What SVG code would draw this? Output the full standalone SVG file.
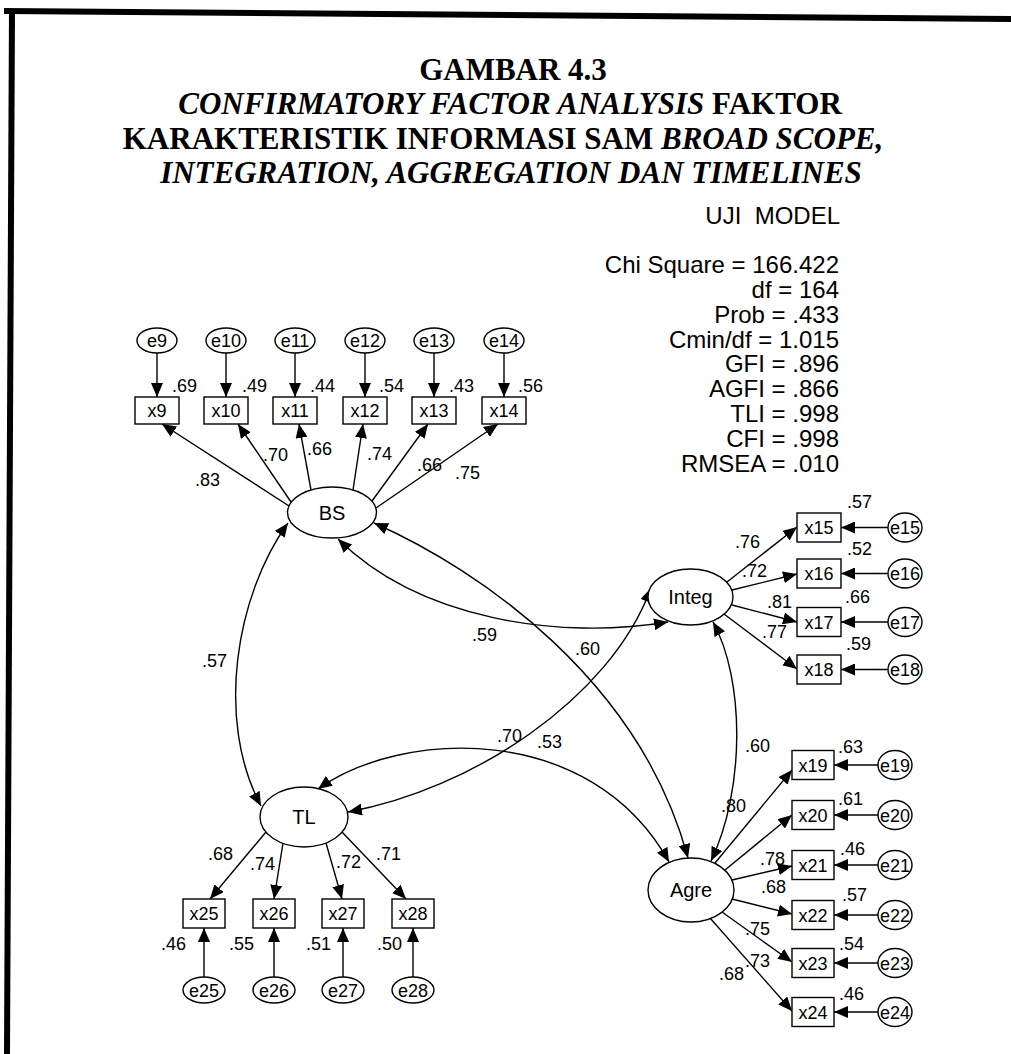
<svg xmlns="http://www.w3.org/2000/svg" width="1011" height="1054" viewBox="0 0 1011 1054">
<style>
  .bg { fill: #ffffff; }
  .frame { fill: #000000; }
  .shape { fill: #ffffff; stroke: #000000; stroke-width: 1.4; }
  .edge { fill: none; stroke: #000000; stroke-width: 1.4; }
  .title { font-family: "Liberation Serif", "Times New Roman", serif; font-weight: bold; font-size: 31px; fill: #000; }
  .it { font-style: italic; }
  .stat { font-family: "Liberation Sans", Arial, sans-serif; font-size: 24px; fill: #000; text-anchor: end; }
  .nm { font-family: "Liberation Sans", Arial, sans-serif; font-size: 18px; fill: #000; text-anchor: middle; }
  .lat { font-family: "Liberation Sans", Arial, sans-serif; font-size: 20px; fill: #000; text-anchor: middle; }
  .coef { font-family: "Liberation Sans", Arial, sans-serif; font-size: 18px; fill: #000; }
</style>
<defs>
  <marker id="ah" viewBox="0 0 14 12" refX="14" refY="6" markerWidth="14" markerHeight="12" markerUnits="userSpaceOnUse" orient="auto-start-reverse">
    <path d="M0,0 L14,6 L0,12 z" fill="#000"/>
  </marker>
</defs>
<rect class="bg" x="0" y="0" width="1011" height="1054"/>
<polygon class="frame" points="4,8 1011,16 1011,22 4,14"/>
<polygon class="frame" points="9,9 15,9 10,1054 4,1054"/>

<g id="title">
  <text class="title" x="513" y="80" text-anchor="middle">GAMBAR 4.3</text>
  <text class="title" x="510" y="114" text-anchor="middle"><tspan class="it">CONFIRMATORY FACTOR ANALYSIS</tspan> FAKTOR</text>
  <text class="title" x="503" y="149" text-anchor="middle">KARAKTERISTIK INFORMASI SAM <tspan class="it">BROAD SCOPE,</tspan></text>
  <text class="title it" x="511" y="183" text-anchor="middle">INTEGRATION, AGGREGATION DAN TIMELINES</text>
  <text class="stat" x="840" y="224" xml:space="preserve">UJI  MODEL</text>
</g>

<g id="fit-stats">
  <text class="stat" x="839" y="273">Chi Square = 166.422</text>
  <text class="stat" x="839" y="298">df = 164</text>
  <text class="stat" x="839" y="323">Prob = .433</text>
  <text class="stat" x="839" y="348">Cmin/df = 1.015</text>
  <text class="stat" x="839" y="372">GFI = .896</text>
  <text class="stat" x="839" y="397">AGFI = .866</text>
  <text class="stat" x="839" y="422">TLI = .998</text>
  <text class="stat" x="839" y="447">CFI = .998</text>
  <text class="stat" x="839" y="472">RMSEA = .010</text>
</g>

<g id="connectors">
  <!-- error -> indicator (BS) -->
  <line class="edge" x1="157" y1="353" x2="157" y2="397" marker-end="url(#ah)"/>
  <line class="edge" x1="226" y1="353" x2="226" y2="397" marker-end="url(#ah)"/>
  <line class="edge" x1="295" y1="353" x2="295" y2="397" marker-end="url(#ah)"/>
  <line class="edge" x1="365" y1="353" x2="365" y2="397" marker-end="url(#ah)"/>
  <line class="edge" x1="434" y1="353" x2="434" y2="397" marker-end="url(#ah)"/>
  <line class="edge" x1="504" y1="353" x2="504" y2="397" marker-end="url(#ah)"/>
  <!-- BS loadings -->
  <line class="edge" x1="289" y1="506" x2="162" y2="424" marker-end="url(#ah)"/>
  <line class="edge" x1="291" y1="502" x2="238" y2="424" marker-end="url(#ah)"/>
  <line class="edge" x1="311" y1="490" x2="299" y2="424" marker-end="url(#ah)"/>
  <line class="edge" x1="353" y1="490" x2="363" y2="424" marker-end="url(#ah)"/>
  <line class="edge" x1="372" y1="501" x2="428" y2="424" marker-end="url(#ah)"/>
  <line class="edge" x1="376" y1="508" x2="498" y2="424" marker-end="url(#ah)"/>
  <!-- Integ loadings -->
  <line class="edge" x1="727" y1="582" x2="797" y2="527" marker-end="url(#ah)"/>
  <line class="edge" x1="732" y1="590" x2="797" y2="574" marker-end="url(#ah)"/>
  <line class="edge" x1="732" y1="605" x2="797" y2="622" marker-end="url(#ah)"/>
  <line class="edge" x1="724" y1="614" x2="797" y2="669" marker-end="url(#ah)"/>
  <!-- errors -> x15..x18 -->
  <line class="edge" x1="888" y1="527.5" x2="841" y2="527.5" marker-end="url(#ah)"/>
  <line class="edge" x1="888" y1="573.5" x2="841" y2="573.5" marker-end="url(#ah)"/>
  <line class="edge" x1="888" y1="622" x2="841" y2="622" marker-end="url(#ah)"/>
  <line class="edge" x1="888" y1="669.5" x2="841" y2="669.5" marker-end="url(#ah)"/>
  <!-- Agre loadings -->
  <line class="edge" x1="715" y1="863" x2="792" y2="770" marker-end="url(#ah)"/>
  <line class="edge" x1="725" y1="870" x2="792" y2="815" marker-end="url(#ah)"/>
  <line class="edge" x1="732" y1="880" x2="792" y2="866" marker-end="url(#ah)"/>
  <line class="edge" x1="732" y1="899" x2="792" y2="914" marker-end="url(#ah)"/>
  <line class="edge" x1="722" y1="912" x2="792" y2="962" marker-end="url(#ah)"/>
  <line class="edge" x1="710" y1="918" x2="792" y2="1011" marker-end="url(#ah)"/>
  <!-- errors -> x19..x24 -->
  <line class="edge" x1="878" y1="765" x2="834" y2="765" marker-end="url(#ah)"/>
  <line class="edge" x1="878" y1="815" x2="834" y2="815" marker-end="url(#ah)"/>
  <line class="edge" x1="878" y1="865" x2="834" y2="865" marker-end="url(#ah)"/>
  <line class="edge" x1="878" y1="915" x2="834" y2="915" marker-end="url(#ah)"/>
  <line class="edge" x1="878" y1="963" x2="834" y2="963" marker-end="url(#ah)"/>
  <line class="edge" x1="878" y1="1012" x2="834" y2="1012" marker-end="url(#ah)"/>
  <!-- TL loadings -->
  <line class="edge" x1="266" y1="832" x2="210" y2="899" marker-end="url(#ah)"/>
  <line class="edge" x1="283" y1="843" x2="274" y2="899" marker-end="url(#ah)"/>
  <line class="edge" x1="326" y1="843" x2="342" y2="899" marker-end="url(#ah)"/>
  <line class="edge" x1="342" y1="832" x2="406" y2="899" marker-end="url(#ah)"/>
  <!-- errors -> x25..x28 -->
  <line class="edge" x1="204" y1="977" x2="204" y2="928" marker-end="url(#ah)"/>
  <line class="edge" x1="274" y1="977" x2="274" y2="928" marker-end="url(#ah)"/>
  <line class="edge" x1="343" y1="977" x2="343" y2="928" marker-end="url(#ah)"/>
  <line class="edge" x1="413" y1="977" x2="413" y2="928" marker-end="url(#ah)"/>
  <!-- correlations -->
  <path class="edge" d="M288,523 C236,595 215,720 261,806" marker-start="url(#ah)" marker-end="url(#ah)"/>
  <path class="edge" d="M338,539 C420,620 560,640 668,622" marker-start="url(#ah)" marker-end="url(#ah)"/>
  <path class="edge" d="M374,523 C480,570 640,680 688,858" marker-start="url(#ah)" marker-end="url(#ah)"/>
  <path class="edge" d="M713,622 C745,680 745,790 711,861" marker-start="url(#ah)" marker-end="url(#ah)"/>
  <path class="edge" d="M651,588 C610,700 470,790 348,812" marker-start="url(#ah)" marker-end="url(#ah)"/>
  <path class="edge" d="M318,789 C400,730 590,720 669,862" marker-start="url(#ah)" marker-end="url(#ah)"/>
</g>

<g id="BS"><ellipse class="shape" cx="332" cy="512.5" rx="44.5" ry="25.5"/><text class="lat" x="332" y="520">BS</text></g>
<g id="Integ"><ellipse class="shape" cx="690.5" cy="597" rx="42.5" ry="28"/><text class="lat" x="690.5" y="604">Integ</text></g>
<g id="TL"><ellipse class="shape" cx="304" cy="817" rx="44" ry="30"/><text class="lat" x="304" y="824">TL</text></g>
<g id="Agre"><ellipse class="shape" cx="691" cy="890" rx="43" ry="32"/><text class="lat" x="691" y="897">Agre</text></g>

<g id="e9"><ellipse class="shape" cx="157" cy="340.5" rx="20" ry="12.5"/><text class="nm" x="157" y="347">e9</text></g>
<g id="e10"><ellipse class="shape" cx="226" cy="340.5" rx="20" ry="12.5"/><text class="nm" x="226" y="347">e10</text></g>
<g id="e11"><ellipse class="shape" cx="295" cy="340.5" rx="20" ry="12.5"/><text class="nm" x="295" y="347">e11</text></g>
<g id="e12"><ellipse class="shape" cx="365" cy="340.5" rx="20" ry="12.5"/><text class="nm" x="365" y="347">e12</text></g>
<g id="e13"><ellipse class="shape" cx="434" cy="340.5" rx="20" ry="12.5"/><text class="nm" x="434" y="347">e13</text></g>
<g id="e14"><ellipse class="shape" cx="504" cy="340.5" rx="20" ry="12.5"/><text class="nm" x="504" y="347">e14</text></g>

<g id="x9"><rect class="shape" x="135" y="397" width="44" height="27"/><text class="nm" x="157" y="417">x9</text></g>
<g id="x10"><rect class="shape" x="204" y="397" width="44" height="27"/><text class="nm" x="226" y="417">x10</text></g>
<g id="x11"><rect class="shape" x="273" y="397" width="44" height="27"/><text class="nm" x="295" y="417">x11</text></g>
<g id="x12"><rect class="shape" x="343" y="397" width="44" height="27"/><text class="nm" x="365" y="417">x12</text></g>
<g id="x13"><rect class="shape" x="412" y="397" width="44" height="27"/><text class="nm" x="434" y="417">x13</text></g>
<g id="x14"><rect class="shape" x="482" y="397" width="44" height="27"/><text class="nm" x="504" y="417">x14</text></g>

<g id="x15"><rect class="shape" x="797" y="513" width="44" height="29"/><text class="nm" x="819" y="534">x15</text></g>
<g id="x16"><rect class="shape" x="797" y="559" width="44" height="29"/><text class="nm" x="819" y="580">x16</text></g>
<g id="x17"><rect class="shape" x="797" y="607.5" width="44" height="29"/><text class="nm" x="819" y="628.5">x17</text></g>
<g id="x18"><rect class="shape" x="797" y="655" width="44" height="29"/><text class="nm" x="819" y="676">x18</text></g>
<g id="e15"><ellipse class="shape" cx="905" cy="527.5" rx="17" ry="14.5"/><text class="nm" x="905" y="534">e15</text></g>
<g id="e16"><ellipse class="shape" cx="905" cy="573.5" rx="17" ry="14.5"/><text class="nm" x="905" y="580">e16</text></g>
<g id="e17"><ellipse class="shape" cx="905" cy="622" rx="17" ry="14.5"/><text class="nm" x="905" y="628.5">e17</text></g>
<g id="e18"><ellipse class="shape" cx="905" cy="669.5" rx="17" ry="14.5"/><text class="nm" x="905" y="676">e18</text></g>

<g id="x19"><rect class="shape" x="792" y="750.5" width="42" height="29"/><text class="nm" x="813" y="771.5">x19</text></g>
<g id="x20"><rect class="shape" x="792" y="800.5" width="42" height="29"/><text class="nm" x="813" y="821.5">x20</text></g>
<g id="x21"><rect class="shape" x="792" y="850.5" width="42" height="29"/><text class="nm" x="813" y="871.5">x21</text></g>
<g id="x22"><rect class="shape" x="792" y="900.5" width="42" height="29"/><text class="nm" x="813" y="921.5">x22</text></g>
<g id="x23"><rect class="shape" x="792" y="948.5" width="42" height="29"/><text class="nm" x="813" y="969.5">x23</text></g>
<g id="x24"><rect class="shape" x="792" y="997.5" width="42" height="29"/><text class="nm" x="813" y="1018.5">x24</text></g>
<g id="e19"><ellipse class="shape" cx="895" cy="765" rx="17" ry="14.5"/><text class="nm" x="895" y="771.5">e19</text></g>
<g id="e20"><ellipse class="shape" cx="895" cy="815" rx="17" ry="14.5"/><text class="nm" x="895" y="821.5">e20</text></g>
<g id="e21"><ellipse class="shape" cx="895" cy="865" rx="17" ry="14.5"/><text class="nm" x="895" y="871.5">e21</text></g>
<g id="e22"><ellipse class="shape" cx="895" cy="915" rx="17" ry="14.5"/><text class="nm" x="895" y="921.5">e22</text></g>
<g id="e23"><ellipse class="shape" cx="895" cy="963" rx="17" ry="14.5"/><text class="nm" x="895" y="969.5">e23</text></g>
<g id="e24"><ellipse class="shape" cx="895" cy="1012" rx="17" ry="14.5"/><text class="nm" x="895" y="1018.5">e24</text></g>

<g id="x25"><rect class="shape" x="183" y="899" width="42" height="29"/><text class="nm" x="204" y="920">x25</text></g>
<g id="x26"><rect class="shape" x="253" y="899" width="42" height="29"/><text class="nm" x="274" y="920">x26</text></g>
<g id="x27"><rect class="shape" x="322" y="899" width="42" height="29"/><text class="nm" x="343" y="920">x27</text></g>
<g id="x28"><rect class="shape" x="392" y="899" width="42" height="29"/><text class="nm" x="413" y="920">x28</text></g>
<g id="e25"><ellipse class="shape" cx="204" cy="990" rx="21" ry="13"/><text class="nm" x="204" y="996.5">e25</text></g>
<g id="e26"><ellipse class="shape" cx="274" cy="990" rx="21" ry="13"/><text class="nm" x="274" y="996.5">e26</text></g>
<g id="e27"><ellipse class="shape" cx="343" cy="990" rx="21" ry="13"/><text class="nm" x="343" y="996.5">e27</text></g>
<g id="e28"><ellipse class="shape" cx="413" cy="990" rx="21" ry="13"/><text class="nm" x="413" y="996.5">e28</text></g>

<g id="coefficients">
  <text class="coef" x="172" y="392">.69</text>
  <text class="coef" x="242" y="392">.49</text>
  <text class="coef" x="310" y="392">.44</text>
  <text class="coef" x="379" y="392">.54</text>
  <text class="coef" x="449" y="392">.43</text>
  <text class="coef" x="518" y="392">.56</text>
  <text class="coef" x="195" y="486">.83</text>
  <text class="coef" x="263" y="461">.70</text>
  <text class="coef" x="307" y="455">.66</text>
  <text class="coef" x="367" y="460">.74</text>
  <text class="coef" x="417" y="471">.66</text>
  <text class="coef" x="455" y="479">.75</text>

  <text class="coef" x="847" y="508">.57</text>
  <text class="coef" x="847" y="555">.52</text>
  <text class="coef" x="845" y="603">.66</text>
  <text class="coef" x="846" y="650">.59</text>
  <text class="coef" x="735" y="548">.76</text>
  <text class="coef" x="742" y="577">.72</text>
  <text class="coef" x="767" y="608">.81</text>
  <text class="coef" x="762" y="638">.77</text>

  <text class="coef" x="838" y="753">.63</text>
  <text class="coef" x="838" y="805">.61</text>
  <text class="coef" x="840" y="855">.46</text>
  <text class="coef" x="842" y="901">.57</text>
  <text class="coef" x="839" y="950">.54</text>
  <text class="coef" x="839" y="1000">.46</text>
  <text class="coef" x="721" y="812">.80</text>
  <text class="coef" x="760" y="865">.78</text>
  <text class="coef" x="761" y="893">.68</text>
  <text class="coef" x="745" y="935">.75</text>
  <text class="coef" x="745" y="967">.73</text>
  <text class="coef" x="719" y="980">.68</text>

  <text class="coef" x="208" y="860">.68</text>
  <text class="coef" x="250" y="870">.74</text>
  <text class="coef" x="336" y="868">.72</text>
  <text class="coef" x="376" y="860">.71</text>
  <text class="coef" x="161" y="950">.46</text>
  <text class="coef" x="229" y="950">.55</text>
  <text class="coef" x="306" y="950">.51</text>
  <text class="coef" x="377" y="950">.50</text>

  <text class="coef" x="202" y="667">.57</text>
  <text class="coef" x="472" y="641">.59</text>
  <text class="coef" x="575" y="655">.60</text>
  <text class="coef" x="497" y="742">.70</text>
  <text class="coef" x="537" y="748">.53</text>
  <text class="coef" x="745" y="752">.60</text>
</g>
</svg>
